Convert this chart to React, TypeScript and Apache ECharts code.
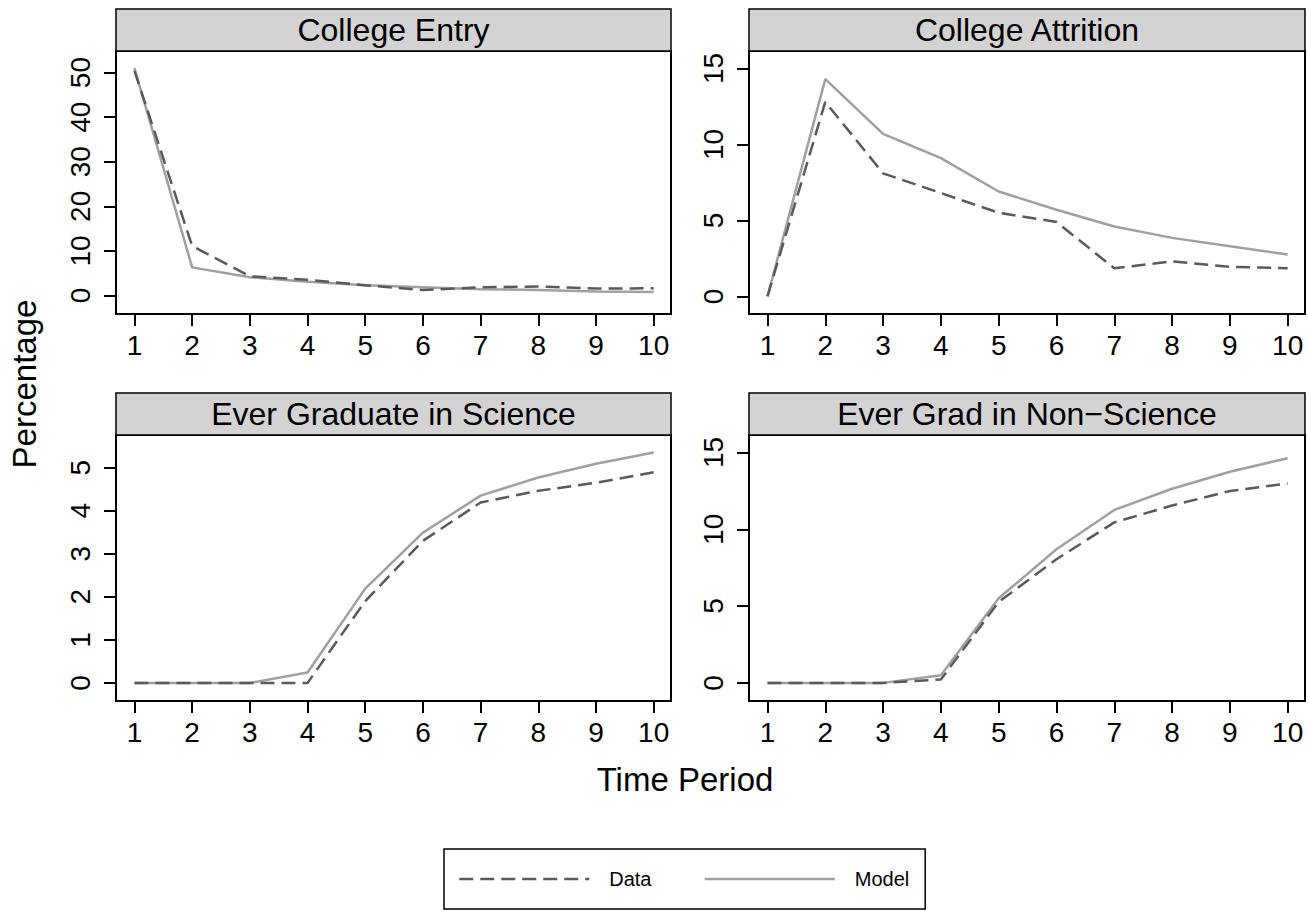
import React, { useEffect, useRef } from 'react';
import * as echarts from 'echarts';

const FONT = '"Liberation Sans", Arial, Helvetica, sans-serif';

// ---- data ----
const PERIODS = [1, 2, 3, 4, 5, 6, 7, 8, 9, 10];
const PANEL_TITLES = ['College Entry', 'College Attrition', 'Ever Graduate in Science', 'Ever Grad in Non\u2212Science'];
const SERIES_NAMES = ['Data', 'Model'];

const ENTRY_DATA = [50.4, 11.1, 4.3, 3.5, 2.3, 1.2, 1.85, 2.0, 1.55, 1.6];
const ENTRY_MODEL = [51.0, 6.3, 4.1, 3.1, 2.3, 1.85, 1.4, 1.25, 0.9, 0.8];
const ATTR_DATA = [0, 12.8, 8.1, 6.8, 5.5, 4.9, 1.85, 2.3, 1.95, 1.85];
const ATTR_MODEL = [0, 14.3, 10.7, 9.1, 6.9, 5.7, 4.6, 3.85, 3.3, 2.75];
const SCI_DATA = [0, 0, 0, 0, 1.9, 3.3, 4.19, 4.46, 4.65, 4.89];
const SCI_MODEL = [0, 0, 0, 0.24, 2.19, 3.49, 4.35, 4.77, 5.09, 5.35];
const NONSCI_DATA = [0, 0, 0, 0.22, 5.27, 8.05, 10.45, 11.55, 12.49, 12.99];
const NONSCI_MODEL = [0, 0, 0, 0.5, 5.51, 8.7, 11.26, 12.64, 13.75, 14.63];

const Y_TICKS_ENTRY = [0, 10, 20, 30, 40, 50];
const Y_TICKS_ATTR = [0, 5, 10, 15];
const Y_TICKS_SCI = [0, 1, 2, 3, 4, 5];
const Y_TICKS_NONSCI = [0, 5, 10, 15];

const Y_RANGE_ENTRY = [-4.16, 54.85];
const Y_RANGE_ATTR = [-1.16, 16.15];
const Y_RANGE_SCI = [-0.42, 5.757];
const Y_RANGE_NONSCI = [-1.18, 16.14];
const X_RANGE = [0.68, 10.3];

const DATA_COLOR = '#5a5a5a';
const MODEL_COLOR = '#a0a0a0';
const DASH = [14, 7];

const panels = [
  { title: PANEL_TITLES[0], data: ENTRY_DATA, model: ENTRY_MODEL, ticks: Y_TICKS_ENTRY, range: Y_RANGE_ENTRY, left: 116, top: 51, width: 555, height: 263 },
  { title: PANEL_TITLES[1], data: ATTR_DATA, model: ATTR_MODEL, ticks: Y_TICKS_ATTR, range: Y_RANGE_ATTR, left: 749, top: 51, width: 556, height: 263 },
  { title: PANEL_TITLES[2], data: SCI_DATA, model: SCI_MODEL, ticks: Y_TICKS_SCI, range: Y_RANGE_SCI, left: 116, top: 435, width: 555, height: 266 },
  { title: PANEL_TITLES[3], data: NONSCI_DATA, model: NONSCI_MODEL, ticks: Y_TICKS_NONSCI, range: Y_RANGE_NONSCI, left: 749, top: 435, width: 556, height: 266 },
];

function buildOption() {
  const grid: any[] = [];
  const xAxis: any[] = [];
  const yAxis: any[] = [];
  const series: any[] = [];
  const graphic: any[] = [];

  panels.forEach((p, i) => {
    grid.push({
      left: p.left, top: p.top, width: p.width, height: p.height,
      show: true, borderColor: '#000', borderWidth: 2, backgroundColor: 'transparent',
    });
    xAxis.push({
      gridIndex: i, type: 'value', min: X_RANGE[0], max: X_RANGE[1],
      axisLine: { show: true, onZero: false, lineStyle: { color: '#000', width: 2 } },
      axisTick: { show: true, length: 12, lineStyle: { color: '#000', width: 2 }, customValues: PERIODS },
      axisLabel: { customValues: PERIODS, fontSize: 28, color: '#000', margin: 17, fontFamily: FONT },
      splitLine: { show: false },
    });
    yAxis.push({
      gridIndex: i, type: 'value', min: p.range[0], max: p.range[1],
      axisLine: { show: true, onZero: false, lineStyle: { color: '#000', width: 2 } },
      axisTick: { show: true, length: 12, lineStyle: { color: '#000', width: 2 }, customValues: p.ticks },
      axisLabel: { customValues: p.ticks, fontSize: 28, color: '#000', margin: 22, rotate: 90, fontFamily: FONT },
      splitLine: { show: false },
    });
    series.push({
      name: SERIES_NAMES[0], type: 'line', xAxisIndex: i, yAxisIndex: i, symbol: 'none', silent: true,
      data: PERIODS.map((x, k) => [x, p.data[k]]),
      lineStyle: { color: DATA_COLOR, width: 2.5, type: DASH },
      itemStyle: { color: DATA_COLOR },
      z: 3,
    });
    series.push({
      name: SERIES_NAMES[1], type: 'line', xAxisIndex: i, yAxisIndex: i, symbol: 'none', silent: true,
      data: PERIODS.map((x, k) => [x, p.model[k]]),
      lineStyle: { color: MODEL_COLOR, width: 2.5 },
      itemStyle: { color: MODEL_COLOR },
      z: 2,
    });
    const stripH = 42;
    graphic.push({
      type: 'rect', silent: true,
      shape: { x: p.left, y: p.top - stripH, width: p.width, height: stripH },
      style: { fill: '#d3d3d3', stroke: '#000', lineWidth: 1.5 },
    });
    graphic.push({
      type: 'text', silent: true,
      x: p.left + p.width / 2, y: p.top - stripH / 2,
      style: { text: p.title, fontSize: 32, fontFamily: FONT, fill: '#000', align: 'center', verticalAlign: 'middle' },
    });
  });

  graphic.push({
    type: 'text', silent: true, x: 24, y: 384, rotation: Math.PI / 2,
    style: { text: 'Percentage', fontSize: 33, fontFamily: FONT, fill: '#000', align: 'center', verticalAlign: 'middle' },
  });
  graphic.push({
    type: 'text', silent: true, x: 685, y: 779,
    style: { text: 'Time Period', fontSize: 33, fontFamily: FONT, fill: '#000', align: 'center', verticalAlign: 'middle' },
  });

  return {
    animation: false,
    backgroundColor: '#fff',
    grid, xAxis, yAxis, series, graphic,
    legend: {
      left: 444, top: 849, orient: 'horizontal',
      padding: [20, 16, 20, 14],
      itemWidth: 130, itemHeight: 20, itemGap: 52,
      borderColor: '#000', borderWidth: 1.5,
      selectedMode: false,
      itemStyle: { opacity: 0 },
      lineStyle: { width: 2.5 },
      textStyle: { fontSize: 20, fontFamily: FONT, color: '#000', padding: [0, 0, 0, 15] },
      data: SERIES_NAMES,
    },
  };
}

export default function App() {
  const ref = useRef<HTMLDivElement>(null);
  useEffect(() => {
    const chart = echarts.init(ref.current as HTMLDivElement, null, { renderer: 'svg' });
    chart.setOption(buildOption() as any);
    return () => chart.dispose();
  }, []);
  return (
    <div
      ref={ref}
      style={{ position: 'fixed', left: 0, top: 0, width: 1308, height: 911, background: '#fff' }}
    />
  );
}
